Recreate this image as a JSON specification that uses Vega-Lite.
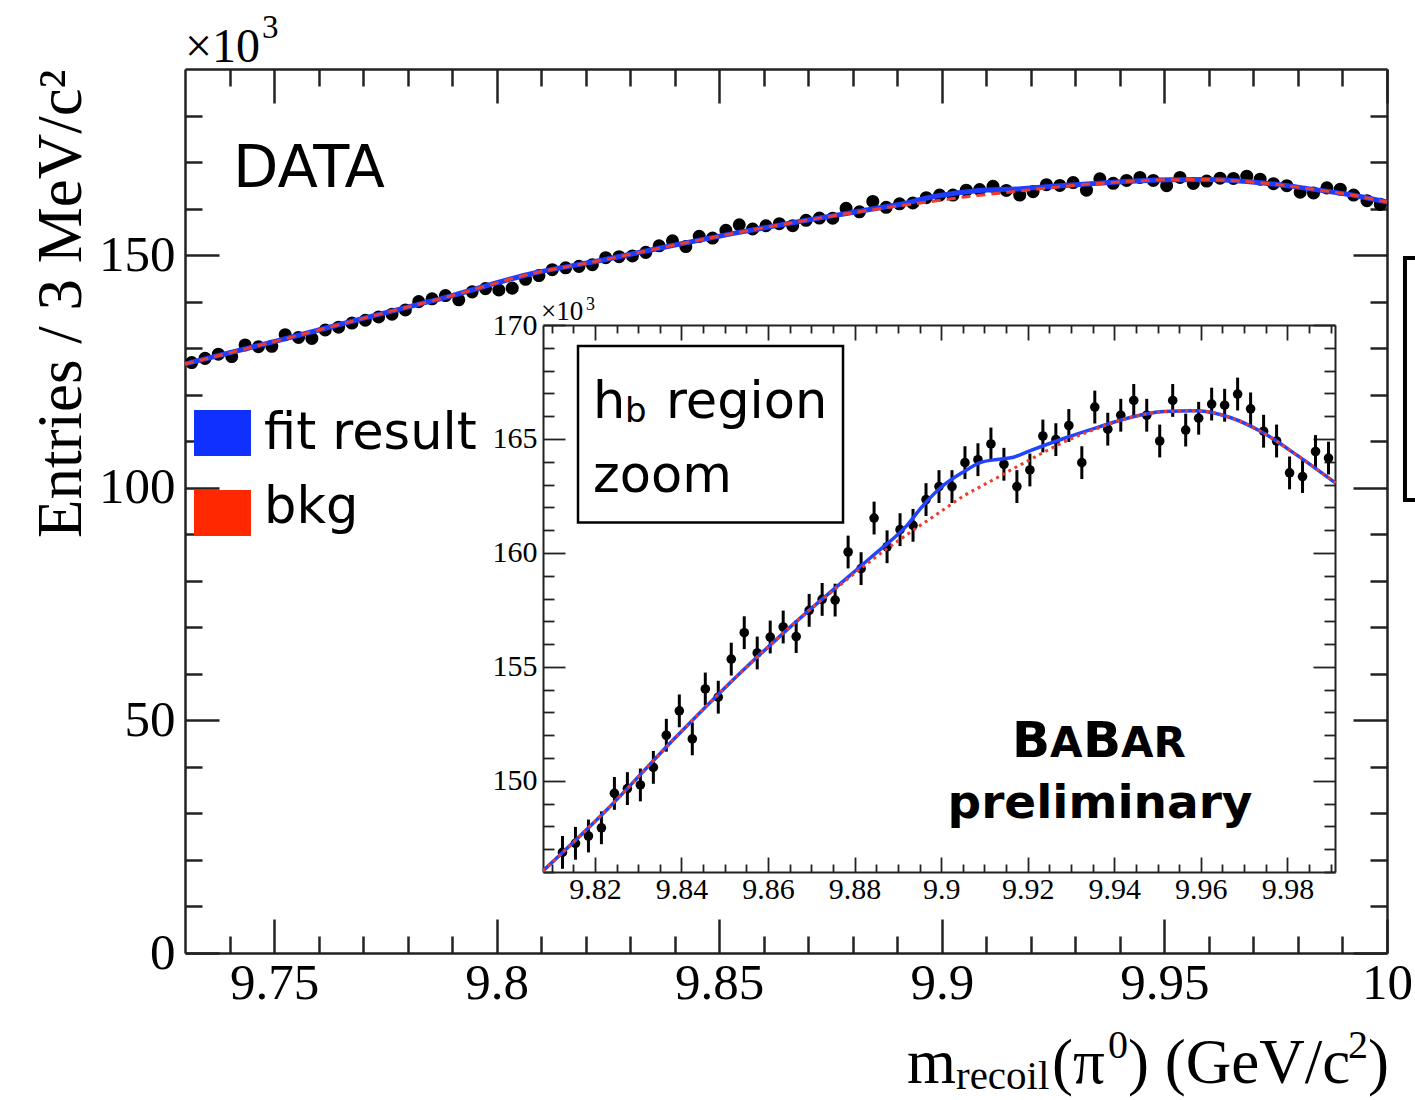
{
  "$schema": "https://vega.github.io/schema/vega-lite/v6.json",
  "width": 1202,
  "height": 884,
  "autosize": {"type": "none"},
  "padding": {"left": 185, "top": 69, "right": 28, "bottom": 147},
  "background": "#ffffff",
  "config": {
    "view": {"stroke": null},
    "axis": {
      "grid": false,
      "labelFont": "Liberation Serif",
      "titleFont": "Liberation Serif",
      "labelColor": "#000000",
      "titleColor": "#000000",
      "tickColor": "#222222",
      "domainColor": "#222222",
      "labelFlush": false,
      "labelOverlap": false,
      "labelBound": false,
      "titleFontWeight": "normal"
    },
    "text": {"font": "DejaVu Sans", "color": "#000000", "baseline": "alphabetic", "align": "left"}
  },
  "datasets": {
    "bins": [
      {"m": 9.7315, "n": 126.9, "err": 0.72}, {"m": 9.7345, "n": 127.8, "err": 0.72}, {"m": 9.7375, "n": 128.7, "err": 0.72},
      {"m": 9.7405, "n": 128.2, "err": 0.72}, {"m": 9.7435, "n": 130.7, "err": 0.72}, {"m": 9.7465, "n": 130.3, "err": 0.72},
      {"m": 9.7495, "n": 130.4, "err": 0.72}, {"m": 9.7525, "n": 132.9, "err": 0.72}, {"m": 9.7555, "n": 132.3, "err": 0.72},
      {"m": 9.7585, "n": 132.1, "err": 0.72}, {"m": 9.7615, "n": 133.9, "err": 0.72}, {"m": 9.7645, "n": 134.5, "err": 0.72},
      {"m": 9.7675, "n": 135.4, "err": 0.72}, {"m": 9.7705, "n": 136.0, "err": 0.72}, {"m": 9.7735, "n": 136.7, "err": 0.72},
      {"m": 9.7765, "n": 137.3, "err": 0.72}, {"m": 9.7795, "n": 138.2, "err": 0.72}, {"m": 9.7825, "n": 140.0, "err": 0.72},
      {"m": 9.7855, "n": 140.6, "err": 0.72}, {"m": 9.7885, "n": 141.3, "err": 0.72}, {"m": 9.7915, "n": 140.4, "err": 0.72},
      {"m": 9.7945, "n": 142.1, "err": 0.72}, {"m": 9.7975, "n": 142.8, "err": 0.72}, {"m": 9.8005, "n": 142.5, "err": 0.72},
      {"m": 9.8035, "n": 142.9, "err": 0.72}, {"m": 9.8065, "n": 144.8, "err": 0.72}, {"m": 9.8095, "n": 145.6, "err": 0.72},
      {"m": 9.8125, "n": 146.86, "err": 0.72}, {"m": 9.8155, "n": 147.26, "err": 0.72}, {"m": 9.8185, "n": 147.58, "err": 0.72},
      {"m": 9.8215, "n": 147.94, "err": 0.72}, {"m": 9.8245, "n": 149.45, "err": 0.72}, {"m": 9.8275, "n": 149.66, "err": 0.72},
      {"m": 9.8305, "n": 149.82, "err": 0.72}, {"m": 9.8335, "n": 150.59, "err": 0.72}, {"m": 9.8365, "n": 152.0, "err": 0.72},
      {"m": 9.8395, "n": 153.07, "err": 0.72}, {"m": 9.8425, "n": 151.84, "err": 0.72}, {"m": 9.8455, "n": 154.03, "err": 0.72},
      {"m": 9.8485, "n": 153.67, "err": 0.72}, {"m": 9.8515, "n": 155.34, "err": 0.72}, {"m": 9.8545, "n": 156.5, "err": 0.72},
      {"m": 9.8575, "n": 155.61, "err": 0.72}, {"m": 9.8605, "n": 156.31, "err": 0.72}, {"m": 9.8635, "n": 156.75, "err": 0.72},
      {"m": 9.8665, "n": 156.33, "err": 0.72}, {"m": 9.8695, "n": 157.48, "err": 0.72}, {"m": 9.8725, "n": 157.96, "err": 0.72},
      {"m": 9.8755, "n": 157.93, "err": 0.72}, {"m": 9.8785, "n": 160.04, "err": 0.72}, {"m": 9.8815, "n": 159.31, "err": 0.72},
      {"m": 9.8845, "n": 161.53, "err": 0.72}, {"m": 9.8875, "n": 160.27, "err": 0.72}, {"m": 9.8905, "n": 161.02, "err": 0.72},
      {"m": 9.8935, "n": 161.21, "err": 0.72}, {"m": 9.8965, "n": 162.34, "err": 0.72}, {"m": 9.8995, "n": 162.91, "err": 0.72},
      {"m": 9.9025, "n": 162.91, "err": 0.72}, {"m": 9.9055, "n": 163.96, "err": 0.72}, {"m": 9.9085, "n": 164.09, "err": 0.72},
      {"m": 9.9115, "n": 164.78, "err": 0.72}, {"m": 9.9145, "n": 163.89, "err": 0.72}, {"m": 9.9175, "n": 162.91, "err": 0.72},
      {"m": 9.9205, "n": 163.64, "err": 0.72}, {"m": 9.9235, "n": 165.13, "err": 0.72}, {"m": 9.9265, "n": 164.97, "err": 0.72},
      {"m": 9.9295, "n": 165.59, "err": 0.72}, {"m": 9.9325, "n": 163.96, "err": 0.72}, {"m": 9.9355, "n": 166.4, "err": 0.72},
      {"m": 9.9385, "n": 165.43, "err": 0.72}, {"m": 9.9415, "n": 166.04, "err": 0.72}, {"m": 9.9445, "n": 166.69, "err": 0.72},
      {"m": 9.9475, "n": 166.04, "err": 0.72}, {"m": 9.9505, "n": 164.91, "err": 0.72}, {"m": 9.9535, "n": 166.69, "err": 0.72},
      {"m": 9.9565, "n": 165.39, "err": 0.72}, {"m": 9.9595, "n": 165.91, "err": 0.72}, {"m": 9.9625, "n": 166.53, "err": 0.72},
      {"m": 9.9655, "n": 166.48, "err": 0.72}, {"m": 9.9685, "n": 166.97, "err": 0.72}, {"m": 9.9715, "n": 166.32, "err": 0.72},
      {"m": 9.9745, "n": 165.34, "err": 0.72}, {"m": 9.9775, "n": 164.91, "err": 0.72}, {"m": 9.9805, "n": 163.51, "err": 0.72},
      {"m": 9.9835, "n": 163.35, "err": 0.72}, {"m": 9.9865, "n": 164.45, "err": 0.72}, {"m": 9.9895, "n": 164.16, "err": 0.72},
      {"m": 9.9925, "n": 162.9, "err": 0.72}, {"m": 9.9955, "n": 161.7, "err": 0.72}, {"m": 9.9985, "n": 160.9, "err": 0.72}
    ],
    "curves": [
      {"m": 9.73, "bkg": 126.6, "fit": 126.6},
      {"m": 9.75, "bkg": 131.4, "fit": 131.4},
      {"m": 9.77, "bkg": 136.4, "fit": 136.4},
      {"m": 9.79, "bkg": 141.3, "fit": 141.3},
      {"m": 9.808, "bkg": 146.05, "fit": 146.05},
      {"m": 9.8227, "bkg": 148.72, "fit": 148.72},
      {"m": 9.8381, "bkg": 151.8, "fit": 151.8},
      {"m": 9.8535, "bkg": 154.72, "fit": 154.72},
      {"m": 9.869, "bkg": 157.4, "fit": 157.4},
      {"m": 9.8767, "bkg": 158.6, "fit": 158.65},
      {"m": 9.8844, "bkg": 159.75, "fit": 159.91},
      {"m": 9.8921, "bkg": 160.8, "fit": 161.21},
      {"m": 9.8959, "bkg": 161.3, "fit": 162.1},
      {"m": 9.8998, "bkg": 161.8, "fit": 162.85},
      {"m": 9.9052, "bkg": 162.5, "fit": 163.56},
      {"m": 9.909, "bkg": 162.9, "fit": 163.96},
      {"m": 9.9129, "bkg": 163.3, "fit": 164.1},
      {"m": 9.9167, "bkg": 163.7, "fit": 164.2},
      {"m": 9.9206, "bkg": 164.1, "fit": 164.49},
      {"m": 9.9283, "bkg": 164.86, "fit": 165.02},
      {"m": 9.936, "bkg": 165.46, "fit": 165.5},
      {"m": 9.9437, "bkg": 165.94, "fit": 165.94},
      {"m": 9.9514, "bkg": 166.2, "fit": 166.2},
      {"m": 9.9591, "bkg": 166.24, "fit": 166.24},
      {"m": 9.9668, "bkg": 165.94, "fit": 165.94},
      {"m": 9.9745, "bkg": 165.26, "fit": 165.26},
      {"m": 9.9822, "bkg": 164.29, "fit": 164.29},
      {"m": 9.9911, "bkg": 163.07, "fit": 163.07},
      {"m": 10.0, "bkg": 161.4, "fit": 161.4}
    ]
  },
  "layer": [
    {
      "layer": [
        {
          "data": {"name": "bins"},
          "mark": {"type": "circle", "size": 170, "color": "#000000", "opacity": 1},
          "encoding": {
            "x": {"field": "m", "type": "quantitative",
              "scale": {"domain": [9.73, 10.0], "nice": false, "zero": false},
              "axis": {"orient": "bottom", "values": [9.75, 9.8, 9.85, 9.9, 9.95, 10], "format": "~g",
                "tickSize": -34, "tickWidth": 2.5, "labelFontSize": 51, "labelPadding": 39,
                "domainWidth": 2.5, "title": null}},
            "y": {"field": "n", "type": "quantitative",
              "scale": {"domain": [0, 190], "nice": false, "zero": false},
              "axis": {"orient": "left", "values": [0, 50, 100, 150], "tickSize": -34, "tickWidth": 2.5,
                "labelFontSize": 51, "labelPadding": 44, "domainWidth": 2.5,
                "title": "Entries / 3 MeV/c²", "titleFontSize": 63, "titleAnchor": "end", "titlePadding": 5}}
          }
        },
        {
          "data": {"name": "curves"},
          "mark": {"type": "line", "color": "#1f3dff", "strokeWidth": 5, "interpolate": "monotone"},
          "encoding": {
            "x": {"field": "m", "type": "quantitative",
              "axis": {"orient": "bottom", "values": [9.74, 9.76, 9.77, 9.78, 9.79, 9.81, 9.82, 9.83, 9.84, 9.86, 9.87, 9.88, 9.89, 9.91, 9.92, 9.93, 9.94, 9.96, 9.97, 9.98, 9.99],
                "tickSize": -17, "tickWidth": 2.5, "labels": false, "domain": false, "title": null}},
            "y": {"field": "fit", "type": "quantitative",
              "axis": {"orient": "left", "values": [10, 20, 30, 40, 60, 70, 80, 90, 110, 120, 130, 140, 160, 170, 180],
                "tickSize": -17, "tickWidth": 2.5, "labels": false, "domain": false, "title": null}}
          }
        },
        {
          "data": {"name": "curves"},
          "mark": {"type": "line", "color": "#ee3b2a", "strokeWidth": 3, "strokeDash": [9, 6], "interpolate": "monotone"},
          "encoding": {
            "x": {"field": "m", "type": "quantitative",
              "axis": {"orient": "top", "values": [9.75, 9.8, 9.85, 9.9, 9.95, 10],
                "tickSize": -34, "tickWidth": 2.5, "labels": false, "domainWidth": 2.5, "title": null}},
            "y": {"field": "bkg", "type": "quantitative",
              "axis": {"orient": "right", "values": [0, 50, 100, 150],
                "tickSize": -34, "tickWidth": 2.5, "labels": false, "domainWidth": 2.5, "title": null}}
          }
        },
        {
          "data": {"values": [{}]},
          "mark": {"type": "text", "text": "DATA", "fontSize": 59},
          "encoding": {
            "x": {"datum": 9.74078, "type": "quantitative",
              "axis": {"orient": "top", "values": [9.74, 9.76, 9.77, 9.78, 9.79, 9.81, 9.82, 9.83, 9.84, 9.86, 9.87, 9.88, 9.89, 9.91, 9.92, 9.93, 9.94, 9.96, 9.97, 9.98, 9.99],
                "tickSize": -17, "tickWidth": 2.5, "labels": false, "domain": false, "title": null}},
            "y": {"datum": 164.63, "type": "quantitative",
              "axis": {"orient": "right", "values": [10, 20, 30, 40, 60, 70, 80, 90, 110, 120, 130, 140, 160, 170, 180],
                "tickSize": -17, "tickWidth": 2.5, "labels": false, "domain": false, "title": null}}
          }
        },
        {
          "data": {"values": [{}]},
          "mark": {"type": "rect", "color": "#0f30ff"},
          "encoding": {
            "x": {"datum": 9.73202, "type": "quantitative", "axis": null},
            "x2": {"datum": 9.74482},
            "y": {"datum": 116.7, "type": "quantitative", "axis": null},
            "y2": {"datum": 106.81}
          }
        },
        {
          "data": {"values": [{}]},
          "mark": {"type": "rect", "color": "#ff2800"},
          "encoding": {
            "x": {"datum": 9.73202, "type": "quantitative", "axis": null},
            "x2": {"datum": 9.74482},
            "y": {"datum": 99.51, "type": "quantitative", "axis": null},
            "y2": {"datum": 89.62}
          }
        },
        {
          "data": {"values": [{}]},
          "mark": {"type": "text", "text": "fit result", "fontSize": 51},
          "encoding": {
            "x": {"datum": 9.74775, "type": "quantitative", "axis": null},
            "y": {"datum": 108.32, "type": "quantitative", "axis": null}
          }
        },
        {
          "data": {"values": [{}]},
          "mark": {"type": "text", "text": "bkg", "fontSize": 51},
          "encoding": {
            "x": {"datum": 9.74775, "type": "quantitative", "axis": null},
            "y": {"datum": 92.41, "type": "quantitative", "axis": null}
          }
        },
        {
          "data": {"values": [{}]},
          "mark": {"type": "text", "text": "×10", "font": "Liberation Serif", "fontSize": 48},
          "encoding": {
            "x": {"datum": 9.73, "type": "quantitative", "axis": null},
            "y": {"datum": 191.49, "type": "quantitative", "axis": null}
          }
        },
        {
          "data": {"values": [{}]},
          "mark": {"type": "text", "text": "3", "font": "Liberation Serif", "fontSize": 33},
          "encoding": {
            "x": {"datum": 9.7473, "type": "quantitative", "axis": null},
            "y": {"datum": 196.65, "type": "quantitative", "axis": null}
          }
        },
        {
          "data": {"values": [{}]},
          "mark": {"type": "text", "text": "m", "font": "Liberation Serif", "fontSize": 63},
          "encoding": {
            "x": {"datum": 9.8922, "type": "quantitative", "axis": null},
            "y": {"datum": -27.94, "type": "quantitative", "axis": null}
          }
        },
        {
          "data": {"values": [{}]},
          "mark": {"type": "text", "text": "recoil", "font": "Liberation Serif", "fontSize": 41},
          "encoding": {
            "x": {"datum": 9.90318, "type": "quantitative", "axis": null},
            "y": {"datum": -29.3, "type": "quantitative", "axis": null}
          }
        },
        {
          "data": {"values": [{}]},
          "mark": {"type": "text", "text": "(π", "font": "Liberation Serif", "fontSize": 63},
          "encoding": {
            "x": {"datum": 9.92474, "type": "quantitative", "axis": null},
            "y": {"datum": -27.94, "type": "quantitative", "axis": null}
          }
        },
        {
          "data": {"values": [{}]},
          "mark": {"type": "text", "text": "0", "font": "Liberation Serif", "fontSize": 40},
          "encoding": {
            "x": {"datum": 9.93733, "type": "quantitative", "axis": null},
            "y": {"datum": -22.5, "type": "quantitative", "axis": null}
          }
        },
        {
          "data": {"values": [{}]},
          "mark": {"type": "text", "text": ") (GeV/c", "font": "Liberation Serif", "fontSize": 63},
          "encoding": {
            "x": {"datum": 9.94182, "type": "quantitative", "axis": null},
            "y": {"datum": -27.94, "type": "quantitative", "axis": null}
          }
        },
        {
          "data": {"values": [{}]},
          "mark": {"type": "text", "text": "2", "font": "Liberation Serif", "fontSize": 40},
          "encoding": {
            "x": {"datum": 9.99122, "type": "quantitative", "axis": null},
            "y": {"datum": -22.5, "type": "quantitative", "axis": null}
          }
        },
        {
          "data": {"values": [{}]},
          "mark": {"type": "text", "text": ")", "font": "Liberation Serif", "fontSize": 63},
          "encoding": {
            "x": {"datum": 9.99571, "type": "quantitative", "axis": null},
            "y": {"datum": -27.94, "type": "quantitative", "axis": null}
          }
        },
        {
          "data": {"values": [{}]},
          "mark": {"type": "rect", "fill": null, "stroke": "#000000", "strokeWidth": 4},
          "encoding": {
            "x": {"datum": 10.00404, "type": "quantitative", "axis": null},
            "x2": {"datum": 10.08},
            "y": {"datum": 149.37, "type": "quantitative", "axis": null},
            "y2": {"datum": 97.36}
          }
        }
      ],
      "resolve": {"axis": {"x": "independent", "y": "independent"}}
    },
    {
      "layer": [
        {
          "data": {"values": [{}]},
          "mark": {"type": "rect", "fill": "#ffffff", "stroke": "#000000", "strokeWidth": 2.5},
          "encoding": {
            "x": {"datum": 9.81609, "type": "quantitative",
              "scale": {"domain": [9.808, 9.991], "range": [358, 1150], "nice": false, "zero": false},
              "axis": {"orient": "top", "offset": -256,
                "values": [9.81, 9.815, 9.825, 9.83, 9.835, 9.845, 9.85, 9.855, 9.865, 9.87, 9.875, 9.885, 9.89, 9.895, 9.905, 9.91, 9.915, 9.925, 9.93, 9.935, 9.945, 9.95, 9.955, 9.965, 9.97, 9.975, 9.985, 9.99],
                "tickSize": -8, "tickWidth": 1.8, "labels": false, "domain": false, "title": null}},
            "x2": {"datum": 9.87732},
            "y": {"datum": 169.08, "type": "quantitative",
              "scale": {"domain": [146, 170], "range": [803, 256], "nice": false, "zero": false},
              "axis": {"orient": "right", "offset": -52,
                "values": [146, 147, 148, 149, 151, 152, 153, 154, 156, 157, 158, 159, 161, 162, 163, 164, 166, 167, 168, 169],
                "tickSize": -11, "tickWidth": 1.8, "labels": false, "domain": false, "title": null}},
            "y2": {"datum": 161.33}
          }
        },
        {
          "data": {"name": "bins"},
          "transform": [{"filter": "datum.m > 9.808 && datum.m < 9.991 && datum.n > 146"}],
          "mark": {"type": "errorbar", "color": "#000000", "thickness": 3},
          "encoding": {
            "x": {"field": "m", "type": "quantitative", "axis": null},
            "y": {"field": "n", "type": "quantitative", "axis": null},
            "yError": {"field": "err"}
          }
        },
        {
          "data": {"name": "bins"},
          "transform": [{"filter": "datum.m > 9.808 && datum.m < 9.991 && datum.n > 146"}],
          "mark": {"type": "circle", "size": 92, "color": "#000000", "opacity": 1},
          "encoding": {
            "x": {"field": "m", "type": "quantitative",
              "axis": {"orient": "bottom", "offset": -81, "values": [9.82, 9.84, 9.86, 9.88, 9.9, 9.92, 9.94, 9.96, 9.98], "format": "~g",
                "tickSize": -15, "tickWidth": 1.8, "labelFontSize": 30, "labelPadding": 17, "domainWidth": 2, "title": null}},
            "y": {"field": "n", "type": "quantitative",
              "axis": {"orient": "left", "offset": -358, "values": [150, 155, 160, 165, 170],
                "tickSize": -22, "tickWidth": 1.8, "labelFontSize": 30, "labelPadding": 28, "domainWidth": 2, "title": null}}
          }
        },
        {
          "data": {"name": "curves"},
          "transform": [{"filter": "datum.m >= 9.808 && datum.m <= 9.9912"}],
          "mark": {"type": "line", "color": "#2244ff", "strokeWidth": 3.5, "interpolate": "monotone"},
          "encoding": {
            "x": {"field": "m", "type": "quantitative",
              "axis": {"orient": "bottom", "offset": -81,
                "values": [9.81, 9.815, 9.825, 9.83, 9.835, 9.845, 9.85, 9.855, 9.865, 9.87, 9.875, 9.885, 9.89, 9.895, 9.905, 9.91, 9.915, 9.925, 9.93, 9.935, 9.945, 9.95, 9.955, 9.965, 9.97, 9.975, 9.985, 9.99],
                "tickSize": -8, "tickWidth": 1.8, "labels": false, "domain": false, "title": null}},
            "y": {"field": "fit", "type": "quantitative",
              "axis": {"orient": "left", "offset": -358,
                "values": [146, 147, 148, 149, 151, 152, 153, 154, 156, 157, 158, 159, 161, 162, 163, 164, 166, 167, 168, 169],
                "tickSize": -11, "tickWidth": 1.8, "labels": false, "domain": false, "title": null}}
          }
        },
        {
          "data": {"name": "curves"},
          "transform": [{"filter": "datum.m >= 9.808 && datum.m <= 9.9912"}],
          "mark": {"type": "line", "color": "#ee3b2a", "strokeWidth": 3, "strokeDash": [3, 4], "interpolate": "monotone"},
          "encoding": {
            "x": {"field": "m", "type": "quantitative",
              "axis": {"orient": "top", "offset": -256, "values": [9.82, 9.84, 9.86, 9.88, 9.9, 9.92, 9.94, 9.96, 9.98],
                "tickSize": -15, "tickWidth": 1.8, "labels": false, "domainWidth": 2, "title": null}},
            "y": {"field": "bkg", "type": "quantitative",
              "axis": {"orient": "right", "offset": -52, "values": [150, 155, 160, 165, 170],
                "tickSize": -22, "tickWidth": 1.8, "labels": false, "domainWidth": 2, "title": null}}
          }
        },
        {
          "data": {"values": [{}]},
          "mark": {"type": "text", "text": "×10", "font": "Liberation Serif", "fontSize": 27},
          "encoding": {
            "x": {"datum": 9.80754, "type": "quantitative", "axis": null},
            "y": {"datum": 170.22, "type": "quantitative", "axis": null}
          }
        },
        {
          "data": {"values": [{}]},
          "mark": {"type": "text", "text": "3", "font": "Liberation Serif", "fontSize": 18},
          "encoding": {
            "x": {"datum": 9.81793, "type": "quantitative", "axis": null},
            "y": {"datum": 170.66, "type": "quantitative", "axis": null}
          }
        },
        {
          "data": {"values": [{}]},
          "mark": {"type": "text", "text": "h", "fontSize": 51},
          "encoding": {
            "x": {"datum": 9.81955, "type": "quantitative", "axis": null},
            "y": {"datum": 165.93, "type": "quantitative", "axis": null}
          }
        },
        {
          "data": {"values": [{}]},
          "mark": {"type": "text", "text": "b", "fontSize": 34},
          "encoding": {
            "x": {"datum": 9.82695, "type": "quantitative", "axis": null},
            "y": {"datum": 165.75, "type": "quantitative", "axis": null}
          }
        },
        {
          "data": {"values": [{}]},
          "mark": {"type": "text", "text": "region", "fontSize": 51},
          "encoding": {
            "x": {"datum": 9.83642, "type": "quantitative", "axis": null},
            "y": {"datum": 165.93, "type": "quantitative", "axis": null}
          }
        },
        {
          "data": {"values": [{}]},
          "mark": {"type": "text", "text": "zoom", "fontSize": 51},
          "encoding": {
            "x": {"datum": 9.81955, "type": "quantitative", "axis": null},
            "y": {"datum": 162.69, "type": "quantitative", "axis": null}
          }
        },
        {
          "data": {"values": [{}]},
          "mark": {"type": "text", "text": "B", "fontSize": 50, "fontWeight": "bold"},
          "encoding": {
            "x": {"datum": 9.91636, "type": "quantitative", "axis": null},
            "y": {"datum": 151.03, "type": "quantitative", "axis": null}
          }
        },
        {
          "data": {"values": [{}]},
          "mark": {"type": "text", "text": "A", "fontSize": 42, "fontWeight": "bold"},
          "encoding": {
            "x": {"datum": 9.92514, "type": "quantitative", "axis": null},
            "y": {"datum": 151.03, "type": "quantitative", "axis": null}
          }
        },
        {
          "data": {"values": [{}]},
          "mark": {"type": "text", "text": "B", "fontSize": 50, "fontWeight": "bold"},
          "encoding": {
            "x": {"datum": 9.93277, "type": "quantitative", "axis": null},
            "y": {"datum": 151.03, "type": "quantitative", "axis": null}
          }
        },
        {
          "data": {"values": [{}]},
          "mark": {"type": "text", "text": "AR", "fontSize": 42, "fontWeight": "bold"},
          "encoding": {
            "x": {"datum": 9.94155, "type": "quantitative", "axis": null},
            "y": {"datum": 151.03, "type": "quantitative", "axis": null}
          }
        },
        {
          "data": {"values": [{}]},
          "mark": {"type": "text", "text": "preliminary", "fontSize": 47, "fontWeight": "bold", "align": "center"},
          "encoding": {
            "x": {"datum": 9.9367, "type": "quantitative", "axis": null},
            "y": {"datum": 148.35, "type": "quantitative", "axis": null}
          }
        }
      ],
      "resolve": {"axis": {"x": "independent", "y": "independent"}}
    }
  ],
  "resolve": {"scale": {"x": "independent", "y": "independent"}}
}
